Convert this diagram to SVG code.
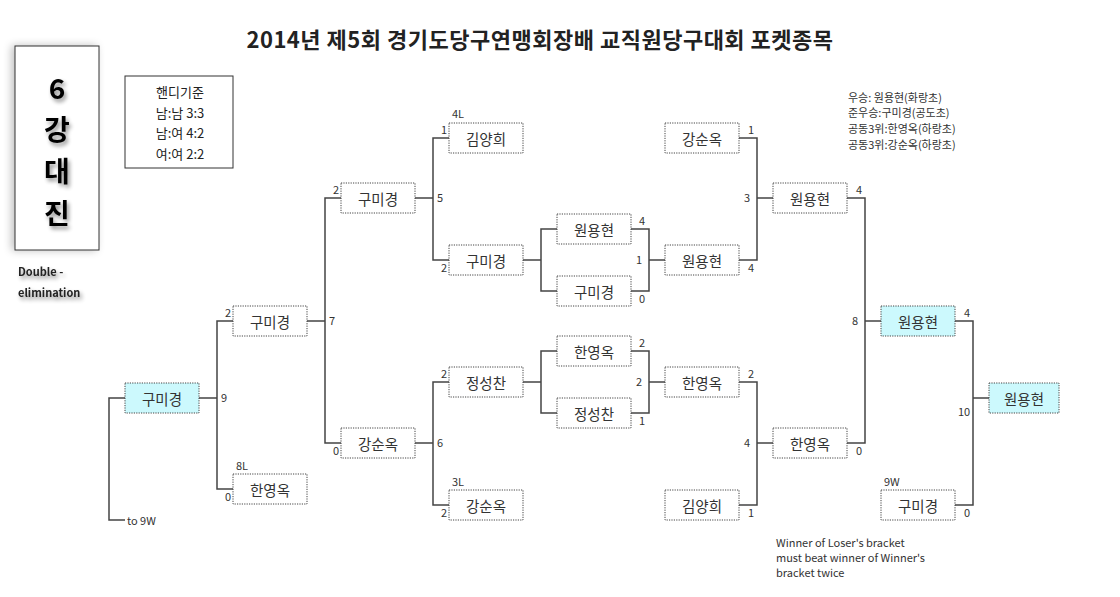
<svg xmlns="http://www.w3.org/2000/svg" width="1120" height="597" viewBox="0 0 1120 597">
<defs>
<filter id="sh" x="-20%" y="-20%" width="140%" height="140%">
<feGaussianBlur in="SourceAlpha" stdDeviation="2"/>
<feOffset dx="2" dy="3" result="b"/>
<feComponentTransfer><feFuncA type="linear" slope="0.45"/></feComponentTransfer>
<feMerge><feMergeNode/><feMergeNode in="SourceGraphic"/></feMerge>
</filter>
<filter id="bsh" x="-20%" y="-5%" width="140%" height="110%">
<feGaussianBlur in="SourceAlpha" stdDeviation="4"/>
<feOffset dx="-3" dy="0" result="b"/>
<feComponentTransfer><feFuncA type="linear" slope="0.25"/></feComponentTransfer>
<feMerge><feMergeNode/><feMergeNode in="SourceGraphic"/></feMerge>
</filter>
</defs>
<style>
text{font-family:"Noto Sans CJK KR","Noto Sans",sans-serif;fill:#222}
.box{fill:#fff;stroke:#444;stroke-width:1;stroke-dasharray:1.2 1.2}
.hl{fill:#ccf9fd}
.nm{font-size:14.5px;text-anchor:middle;dominant-baseline:central;fill:#333}
.sc{font-size:11px;fill:#333}
.ln{fill:none;stroke:#444;stroke-width:1.5}
.sm{font-size:11px;fill:#333}
.big{font-size:28px;font-weight:bold;text-anchor:middle;dominant-baseline:central;fill:#000}
</style>
<rect width="1120" height="597" fill="#fff"/>

<text x="540" y="48" font-size="22" font-weight="bold" letter-spacing="0.5" text-anchor="middle" fill="#000">2014년 제5회 경기도당구연맹회장배 교직원당구대회 포켓종목</text>

<g id="title-box">
<rect x="15" y="46" width="84" height="204" fill="#fff" stroke="#333" stroke-width="1" filter="url(#bsh)"/>
<g filter="url(#sh)">
<text class="big" x="57" y="87">6</text>
<text class="big" x="57" y="128">강</text>
<text class="big" x="57" y="170">대</text>
<text class="big" x="57" y="212">진</text>
</g>
</g>
<g id="double-elim" filter="url(#sh)">
<text x="18" y="276" font-size="11" font-weight="bold" fill="#222">Double -</text>
<text x="18" y="297" font-size="11" font-weight="bold" fill="#222">elimination</text>
</g>

<g id="handicap">
<rect x="125" y="76" width="108" height="92" fill="#fff" stroke="#333" stroke-width="1"/>
<text x="180" y="97" font-size="13" text-anchor="middle">핸디기준</text>
<text x="180" y="118" font-size="13" text-anchor="middle">남:남 3:3</text>
<text x="180" y="138" font-size="13" text-anchor="middle">남:여 4:2</text>
<text x="180" y="159" font-size="13" text-anchor="middle">여:여 2:2</text>
</g>

<g id="results">
<text class="sm" x="848" y="102">우승: 원용현(화랑초)</text>
<text class="sm" x="848" y="117">준우승:구미경(공도초)</text>
<text class="sm" x="848" y="133">공동3위:한영옥(하랑초)</text>
<text class="sm" x="848" y="149">공동3위:강순옥(하랑초)</text>
</g>

<g id="note">
<text class="sm" x="776" y="547">Winner of Loser's bracket</text>
<text class="sm" x="776" y="562">must beat winner of Winner's</text>
<text class="sm" x="776" y="577">bracket twice</text>
</g>

<g id="connectors">
<path class="ln" d="M125 398H109V520H125"/>
<path class="ln" d="M199 398H217M233 321H217V489H233"/>
<path class="ln" d="M307 321H325M341 198H325V443H341"/>
<path class="ln" d="M415 198H433M449 138H433V260H449"/>
<path class="ln" d="M415 443H433M449 382H433V505H449"/>
<path class="ln" d="M523 260H541M557 229H541V291H557"/>
<path class="ln" d="M523 382H541M557 351H541V413H557"/>
<path class="ln" d="M631 229H649V291H631M649 260H665"/>
<path class="ln" d="M631 351H649V413H631M649 382H665"/>
<path class="ln" d="M739 138H757V260H739M757 198H773"/>
<path class="ln" d="M739 382H757V505H739M757 443H773"/>
<path class="ln" d="M847 198H865V443H847M865 321H881"/>
<path class="ln" d="M955 321H973V505H955M973 398H989"/>
</g>

<g id="scores">
<text class="sc" x="127" y="525">to 9W</text>
<text class="sc" x="221" y="402">9</text>
<text class="sc" x="225" y="317">2</text>
<text class="sc" x="225" y="501">0</text>
<text class="sc" x="329" y="325">7</text>
<text class="sc" x="333" y="194">2</text>
<text class="sc" x="333" y="455">0</text>
<text class="sc" x="437" y="202">5</text>
<text class="sc" x="441" y="134">1</text>
<text class="sc" x="441" y="272">2</text>
<text class="sc" x="437" y="447">6</text>
<text class="sc" x="441" y="378">2</text>
<text class="sc" x="441" y="517">2</text>
<text class="sc" x="452" y="118">4L</text>
<text class="sc" x="452" y="486">3L</text>
<text class="sc" x="236" y="470">8L</text>
<text class="sc" x="884" y="486">9W</text>
<text class="sc" x="639" y="225">4</text>
<text class="sc" x="639" y="303">0</text>
<text class="sc" x="636" y="264">1</text>
<text class="sc" x="639" y="347">2</text>
<text class="sc" x="639" y="425">1</text>
<text class="sc" x="636" y="386">2</text>
<text class="sc" x="748" y="134">1</text>
<text class="sc" x="748" y="272">4</text>
<text class="sc" x="744" y="202">3</text>
<text class="sc" x="748" y="378">2</text>
<text class="sc" x="748" y="517">1</text>
<text class="sc" x="744" y="447">4</text>
<text class="sc" x="856" y="194">4</text>
<text class="sc" x="856" y="455">0</text>
<text class="sc" x="852" y="325">8</text>
<text class="sc" x="964" y="317">4</text>
<text class="sc" x="964" y="517">0</text>
<text class="sc" x="958" y="416">10</text>
</g>

<g id="n1"><rect class="box hl" x="125" y="383" width="74" height="30"/><text class="nm" x="162" y="398">구미경</text></g>
<g id="n2"><rect class="box" x="233" y="306" width="74" height="30"/><text class="nm" x="270" y="321">구미경</text></g>
<g id="n3"><rect class="box" x="233" y="474" width="74" height="30"/><text class="nm" x="270" y="489">한영옥</text></g>
<g id="n4"><rect class="box" x="341" y="183" width="74" height="30"/><text class="nm" x="378" y="198">구미경</text></g>
<g id="n5"><rect class="box" x="341" y="428" width="74" height="30"/><text class="nm" x="378" y="443">강순옥</text></g>
<g id="n6"><rect class="box" x="449" y="123" width="74" height="30"/><text class="nm" x="486" y="138">김양희</text></g>
<g id="n7"><rect class="box" x="449" y="245" width="74" height="30"/><text class="nm" x="486" y="260">구미경</text></g>
<g id="n8"><rect class="box" x="449" y="367" width="74" height="30"/><text class="nm" x="486" y="382">정성찬</text></g>
<g id="n9"><rect class="box" x="449" y="490" width="74" height="30"/><text class="nm" x="486" y="505">강순옥</text></g>
<g id="n10"><rect class="box" x="557" y="214" width="74" height="30"/><text class="nm" x="594" y="229">원용현</text></g>
<g id="n11"><rect class="box" x="557" y="276" width="74" height="30"/><text class="nm" x="594" y="291">구미경</text></g>
<g id="n12"><rect class="box" x="557" y="336" width="74" height="30"/><text class="nm" x="594" y="351">한영옥</text></g>
<g id="n13"><rect class="box" x="557" y="398" width="74" height="30"/><text class="nm" x="594" y="413">정성찬</text></g>
<g id="n14"><rect class="box" x="665" y="123" width="74" height="30"/><text class="nm" x="702" y="138">강순옥</text></g>
<g id="n15"><rect class="box" x="665" y="245" width="74" height="30"/><text class="nm" x="702" y="260">원용현</text></g>
<g id="n16"><rect class="box" x="665" y="367" width="74" height="30"/><text class="nm" x="702" y="382">한영옥</text></g>
<g id="n17"><rect class="box" x="665" y="490" width="74" height="30"/><text class="nm" x="702" y="505">김양희</text></g>
<g id="n18"><rect class="box" x="773" y="183" width="74" height="30"/><text class="nm" x="810" y="198">원용현</text></g>
<g id="n19"><rect class="box" x="773" y="428" width="74" height="30"/><text class="nm" x="810" y="443">한영옥</text></g>
<g id="n20"><rect class="box hl" x="881" y="306" width="74" height="30"/><text class="nm" x="918" y="321">원용현</text></g>
<g id="n21"><rect class="box" x="881" y="490" width="74" height="30"/><text class="nm" x="918" y="505">구미경</text></g>
<g id="n22"><rect class="box hl" x="989" y="383" width="70" height="30"/><text class="nm" x="1024" y="398">원용현</text></g>
</svg>
